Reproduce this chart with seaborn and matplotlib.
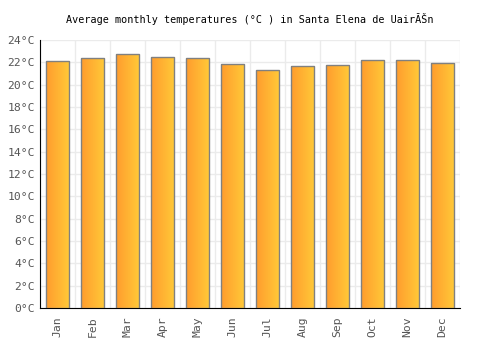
import numpy as np
import pandas as pd
import matplotlib
matplotlib.use("Agg")
import matplotlib.pyplot as plt
import seaborn as sns
from matplotlib.colors import LinearSegmentedColormap

# monthly averages
months = ["Jan", "Feb", "Mar", "Apr", "May", "Jun", "Jul", "Aug", "Sep", "Oct", "Nov", "Dec"]
temps = [22.1, 22.4, 22.7, 22.5, 22.4, 21.8, 21.3, 21.7, 21.75, 22.2, 22.2, 21.9]
yticks = list(range(0, 25, 2))
title = "Average monthly temperatures (°C ) in Santa Elena de UairĂŠn"

df = pd.DataFrame({"month": months, "temp": temps})

sns.set_style("white")
plt.rcParams["font.family"] = ["DejaVu Sans Mono"]

fig = plt.figure(figsize=(5, 3.5), dpi=100)
ax = fig.add_axes([0.08, 0.12, 0.84, 0.766])

sns.barplot(data=df, x="month", y="temp", color="#ffb030", width=0.68,
            edgecolor="#808080", linewidth=1, ax=ax, zorder=3)

# left-to-right orange/yellow gradient inside each bar
cmap = LinearSegmentedColormap.from_list("warm", ["#ff9c2e", "#ffca38"])
grad = np.linspace(0, 1, 64).reshape(1, -1)
for p in ax.patches:
    x0, y0 = p.get_x(), p.get_y()
    w, h = p.get_width(), p.get_height()
    im = ax.imshow(grad, cmap=cmap, aspect="auto", extent=[x0, x0 + w, y0, y0 + h],
                   zorder=3, interpolation="bilinear")
    im.set_clip_path(p)
    p.set_facecolor("none")
    p.set_zorder(4)

ax.set_xlim(-0.5, len(months) - 0.5)
ax.set_ylim(0, 24)
ax.set_yticks(yticks)
ax.set_yticklabels([f"{t}°C" for t in yticks])
ax.set_xticks(range(len(months)))
ax.set_xticklabels(months, rotation=90)

# vertical grid between categories, horizontal at ticks
ax.set_xticks(np.arange(-0.5, len(months), 1), minor=True)
ax.grid(axis="x", which="minor", color="#ebebeb", lw=1, zorder=0)
ax.grid(axis="y", which="major", color="#ebebeb", lw=1, zorder=0)
ax.tick_params(axis="both", which="both", length=0, labelsize=8.2, colors="#555555")
ax.tick_params(axis="x", pad=6)

for s in ["top", "right"]:
    ax.spines[s].set_visible(False)
ax.spines["left"].set_color("black")
ax.spines["bottom"].set_color("black")
ax.set_xlabel("")
ax.set_ylabel("")
ax.set_title(title, fontsize=7.3, color="black", pad=12)

fig.savefig("out.png", dpi=100)
